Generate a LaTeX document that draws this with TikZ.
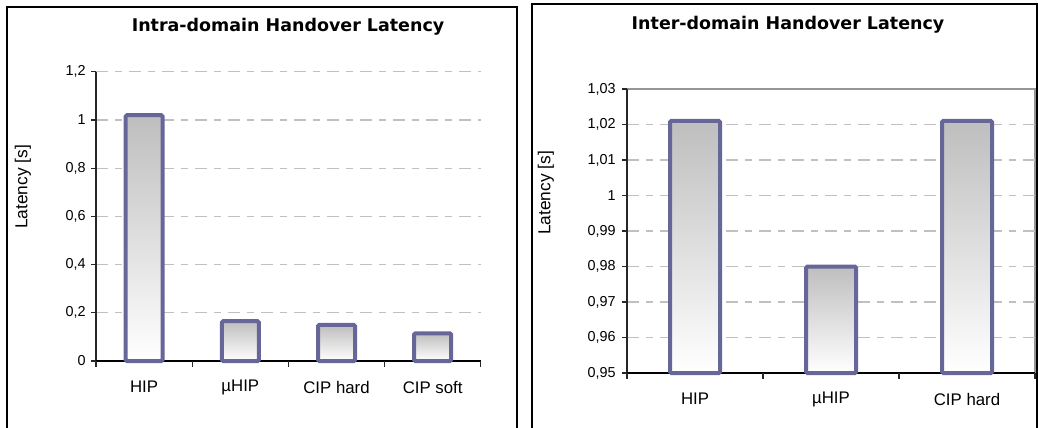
\documentclass[tikz,border=0pt]{standalone}
\usepackage{fontspec}
\setmainfont{Liberation Sans}
\newfontfamily\titlefont{DejaVu Sans}
\usetikzlibrary{positioning}

\definecolor{barline}{RGB}{102,102,153}
\definecolor{barfill}{RGB}{190,190,190}
\definecolor{gridgray}{RGB}{192,192,192}
\definecolor{areagray}{RGB}{150,150,150}

\begin{document}
\begin{tikzpicture}[x=0.75pt, y=-0.75pt,
  frame/.style={draw=black, line width=1.1pt},
  charttitle/.style={font=\titlefont\bfseries\fontsize{13.1}{15}\selectfont, inner sep=0pt},
  ticklabel/.style={anchor=east, inner sep=0pt, font=\fontsize{10.8}{12}\selectfont},
  catlabel/.style={inner sep=0pt, font=\fontsize{12.6}{14}\selectfont},
  axislabel/.style={rotate=90, inner sep=0pt, font=\fontsize{13}{15}\selectfont},
  gridline/.style={draw=gridgray, line width=0.8pt, dash pattern=on 9pt off 5.25pt on 5.25pt off 5.25pt},
  axis/.style={draw=black!85, line width=0.8pt},
  bar/.style={draw=barline, line width=3pt, rounded corners=1pt, top color=barfill, bottom color=white}
]
\useasboundingbox (0,0) rectangle (1038,428);

% ---- left chart: intra-domain ----
\draw[frame] (7,428) -- (7,7) -- (517,7) -- (517,428);
\node[charttitle] (ltitle) at (288,27) {Intra-domain Handover Latency};
\node[axislabel] (lylabel) at (23,187) {Latency [s]};

% grid, ticks and values (0.2 = 48.2px)
\foreach \v in {1,...,6}
  \draw[gridline] (96,361-48.2*\v) -- (481,361-48.2*\v);
\foreach \v/\t in {0/0, 1/{0,2}, 2/{0,4}, 3/{0,6}, 4/{0,8}, 5/1, 6/{1,2}} {
  \draw[axis] (91,361-48.2*\v) -- (96,361-48.2*\v);
  \node[ticklabel] (lt\v) at (86,361-48.2*\v) {\t};
}
\draw[axis] (96,361) -- (96,72);
\draw[axis, draw=black] (96,361) -- (481,361);
\foreach \k in {0,...,4}
  \draw[axis] (96+96.2*\k,361) -- (96+96.2*\k,367);

% bars
\foreach \k/\val/\name in {0/1.02/HIP, 1/0.165/µHIP, 2/0.15/CIP hard, 3/0.115/CIP soft} {
  \shadedraw[bar] (144.1+96.2*\k-18.5,361) rectangle (144.1+96.2*\k+18.5,361-241*\val);
  \node[catlabel] (lc\k) at (144.1+96.2*\k,387) {\name};
}

% ---- right chart: inter-domain ----
\draw[frame] (532,428) -- (532,4) -- (1037,4) -- (1037,428);
\node[charttitle] (rtitle) at (788,25) {Inter-domain Handover Latency};
\node[axislabel] (rylabel) at (546,193) {Latency [s]};

% plot area border
\draw[draw=areagray, line width=0.9pt] (627,89) -- (1035,89) -- (1035,373);

% grid, ticks and values (0.01 = 35.5px)
\foreach \v in {1,...,7}
  \draw[gridline] (627,373-35.5*\v) -- (1035,373-35.5*\v);
\foreach \v/\t in {0/{0,95}, 1/{0,96}, 2/{0,97}, 3/{0,98}, 4/{0,99}, 5/1, 6/{1,01}, 7/{1,02}, 8/{1,03}} {
  \draw[axis] (622,373-35.5*\v) -- (627,373-35.5*\v);
  \node[ticklabel] (rt\v) at (616,373-35.5*\v) {\t};
}
\draw[axis] (627,373) -- (627,89);
\draw[axis, draw=black] (627,373) -- (1035,373);
\foreach \k in {0,...,3}
  \draw[axis] (627+136*\k,373) -- (627+136*\k,379);

% bars
\foreach \k/\val/\name in {0/0.071/HIP, 1/0.030/µHIP, 2/0.071/CIP hard} {
  \shadedraw[bar] (695+136*\k-25,373) rectangle (695+136*\k+25,373-3550*\val);
  \node[catlabel] (rc\k) at (695+136*\k,399) {\name};
}
\end{tikzpicture}
\end{document}
